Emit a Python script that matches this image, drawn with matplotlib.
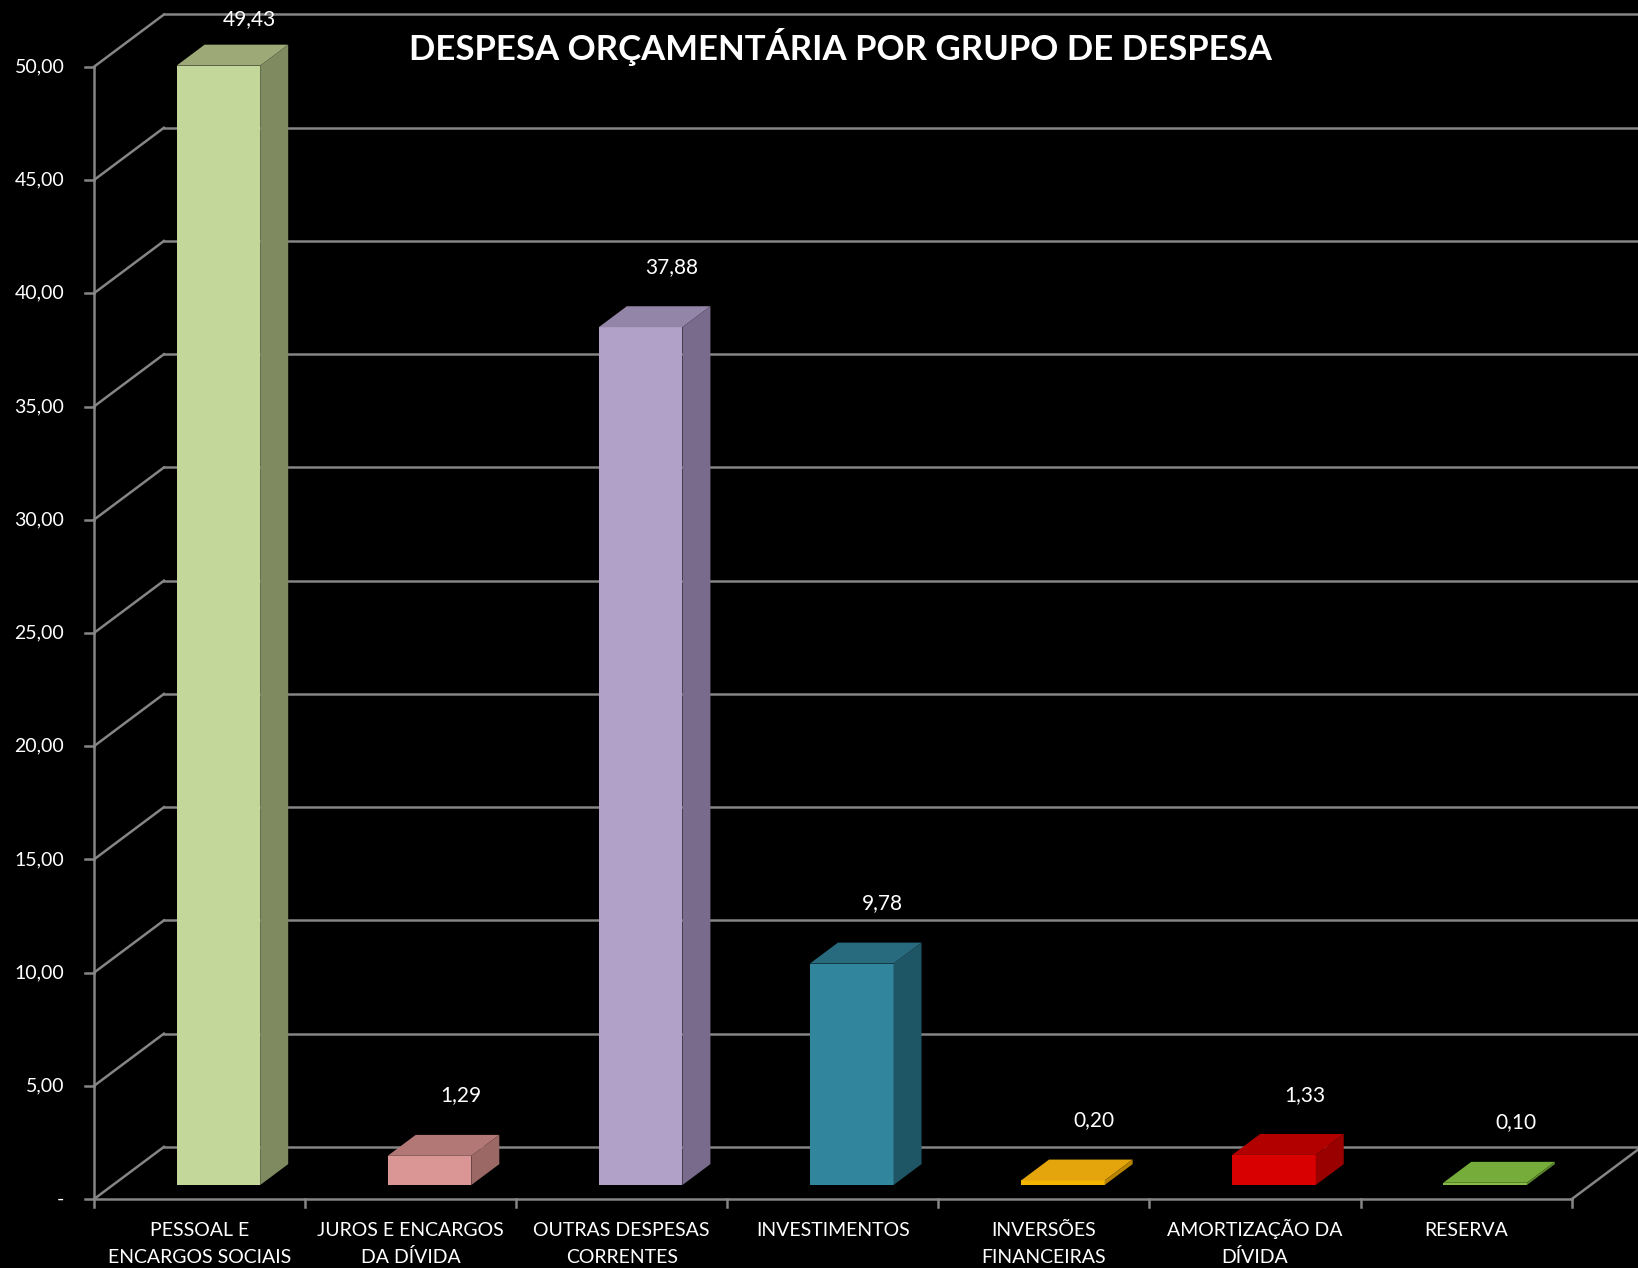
import matplotlib.pyplot as plt
from matplotlib.patches import Polygon

plt.rcParams['font.family'] = ['Lato', 'DejaVu Sans']

# dados do gráfico
categorias = ['PESSOAL E\nENCARGOS SOCIAIS', 'JUROS E ENCARGOS\nDA DÍVIDA',
              'OUTRAS DESPESAS\nCORRENTES', 'INVESTIMENTOS', 'INVERSÕES\nFINANCEIRAS',
              'AMORTIZAÇÃO DA\nDÍVIDA', 'RESERVA']
valores = [49.43, 1.29, 37.88, 9.78, 0.20, 1.33, 0.10]
rotulos = ['49,43', '1,29', '37,88', '9,78', '0,20', '1,33', '0,10']
ticks_y = [0, 5, 10, 15, 20, 25, 30, 35, 40, 45, 50]
ticks_y_txt = ['-', '5,00', '10,00', '15,00', '20,00', '25,00', '30,00',
               '35,00', '40,00', '45,00', '50,00']

# cores (frente, topo, lado)
cores_frente = ['#C4D79B', '#DA9694', '#B1A0C7', '#31859C', '#F2B600', '#D80000', '#86BC48']
cores_topo = ['#9DAA78', '#B27876', '#9385A7', '#286B7E', '#E3A40C', '#B20000', '#76AC3A']
cores_lado = ['#7F8A60', '#9C6866', '#786B8B', '#1F5666', '#B88400', '#9A0000', '#5E8A2E']

# projeção oblíqua (profundidade em unidades dos eixos)
ddx = 0.3316
ddy = 2.31
d0, d1 = 0.27, 0.67
larg = 0.396
grid_cor = '#858585'

fig = plt.figure(figsize=(16.38, 12.68), dpi=100, facecolor='black')
ax = fig.add_axes([0, 0, 1, 1])
ax.set_facecolor('black')
ax.set_xlim(-0.445, 7.314)
ax.set_ylim(-3.04, 52.95)
ax.axis('off')

n = len(categorias)

# paredes / grade
for v in ticks_y:
    ax.plot([0, ddx], [v, v + ddy], color=grid_cor, lw=1.8, zorder=1)
    ax.plot([ddx, n + 1], [v + ddy, v + ddy], color=grid_cor, lw=1.8, zorder=1)
    ax.plot([-0.04, 0], [v, v], color=grid_cor, lw=1.8, zorder=1)
ax.plot([0, 0], [0, 50], color=grid_cor, lw=1.8, zorder=1)
ax.plot([0, n], [0, 0], color=grid_cor, lw=1.8, zorder=1)
ax.plot([n, n + ddx], [0, ddy], color=grid_cor, lw=1.8, zorder=1)
for k in range(n + 1):
    ax.plot([k, k], [0, -0.35], color=grid_cor, lw=1.8, zorder=1)

for v, t in zip(ticks_y, ticks_y_txt):
    ax.text(-0.14, v, t, color='white', fontsize=14, ha='right', va='center')

# barras 3D
dd = d1 - d0
for i, v in enumerate(valores):
    xl = i + 0.5 - larg / 2 + d0 * ddx
    base = d0 * ddy
    ax.bar(xl, v, larg, bottom=base, align='edge', color=cores_frente[i],
           linewidth=0, zorder=3)
    topo = [(xl, base + v), (xl + larg, base + v),
            (xl + larg + dd * ddx, base + v + dd * ddy), (xl + dd * ddx, base + v + dd * ddy)]
    lado = [(xl + larg, base), (xl + larg + dd * ddx, base + dd * ddy),
            (xl + larg + dd * ddx, base + v + dd * ddy), (xl + larg, base + v)]
    ax.add_patch(Polygon(topo, closed=True, facecolor=cores_topo[i], lw=0, zorder=3))
    ax.add_patch(Polygon(lado, closed=True, facecolor=cores_lado[i], lw=0, zorder=3))

    yl = min(v + (d0 + d1) / 2 * ddy + 2.2, 52.1)
    ax.text(i + 0.5 + (d0 + d1) / 2 * ddx + 0.08, yl, rotulos[i], color='white',
            fontsize=15, ha='center', va='center', zorder=4)

# rótulos das categorias (uma linha por vez, alinhadas pela base)
for i, c in enumerate(categorias):
    for j, linha in enumerate(c.split('\n')):
        ax.text(i + 0.5, -1.62 - 1.2 * j, linha, color='white', fontsize=14,
                ha='center', va='baseline')

fig.text(0.513, 0.963, 'DESPESA ORÇAMENTÁRIA POR GRUPO DE DESPESA', color='white',
         fontsize=25, fontweight='bold', ha='center', va='center')

fig.savefig('out.png', dpi=100, facecolor='black')
